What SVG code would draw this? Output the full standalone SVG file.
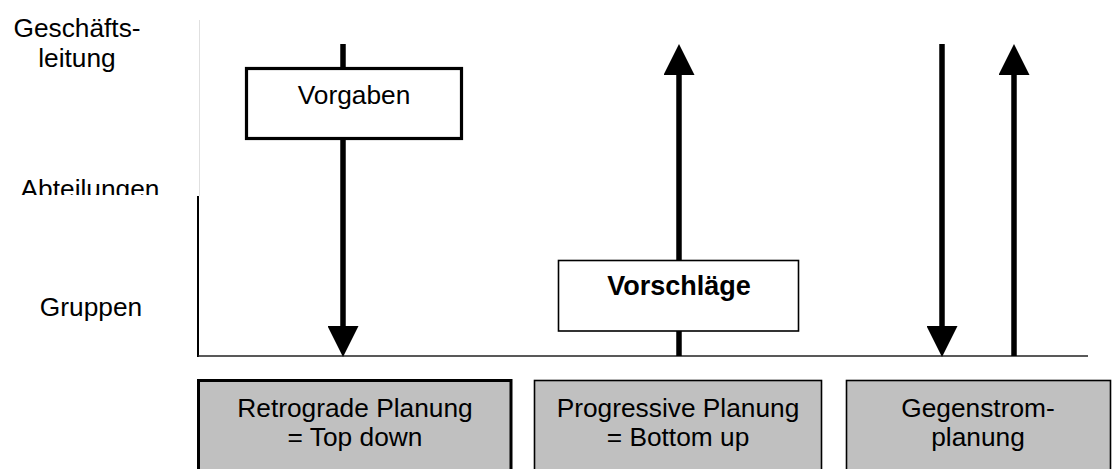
<svg xmlns="http://www.w3.org/2000/svg" width="1115" height="469" viewBox="0 0 1115 469">
  <style>
    text { font-family: "Liberation Sans", Arial, sans-serif; font-size: 26.3px; fill: #000; }
    .mid { text-anchor: middle; }
    .bold { font-weight: bold; font-size: 27px; }
    .shaft { stroke: #000; stroke-width: 5.5; fill: none; }
    .plain { fill: #fff; stroke: #000; }
    .method { fill: #c0c0c0; stroke: #000; }
  </style>
  <defs>
    <marker id="head" viewBox="0 0 31 31" refX="0" refY="15.5" markerWidth="31" markerHeight="31" markerUnits="userSpaceOnUse" orient="auto">
      <path d="M0,0 L31,15.5 L0,31 Z" fill="#000"/>
    </marker>
    <clipPath id="cut-level">
      <rect x="0" y="150" width="200" height="45"/>
    </clipPath>
  </defs>

  <rect width="1115" height="469" fill="#fff"/>

  <!-- hierarchy levels -->
  <g id="levels">
    <text class="mid" x="77" y="37">Geschäfts-</text>
    <text class="mid" x="77" y="67">leitung</text>
    <text class="mid" x="90" y="198" clip-path="url(#cut-level)">Abteilungen</text>
    <text class="mid" x="91" y="316">Gruppen</text>
  </g>

  <!-- axes -->
  <g id="axes">
    <line x1="199.5" y1="20" x2="199.5" y2="196" stroke="#e0e0e0" stroke-width="1"/>
    <line x1="198" y1="196" x2="198" y2="357" stroke="#000" stroke-width="2"/>
    <line x1="198" y1="356" x2="1088" y2="356" stroke="#222" stroke-width="1.6"/>
  </g>

  <!-- planning flows -->
  <g id="connectors">
    <line class="shaft" x1="343" y1="44" x2="343" y2="326" marker-end="url(#head)"/>
    <line class="shaft" x1="679" y1="356" x2="679" y2="75" marker-end="url(#head)"/>
    <line class="shaft" x1="942" y1="44" x2="942" y2="326" marker-end="url(#head)"/>
    <line class="shaft" x1="1014" y1="356" x2="1014" y2="75" marker-end="url(#head)"/>
  </g>

  <g id="vorgaben">
    <rect class="plain" x="246.5" y="68.5" width="215" height="70" stroke-width="3.2"/>
    <text class="mid" x="354" y="104">Vorgaben</text>
  </g>

  <g id="vorschlaege">
    <rect class="plain" x="558.5" y="260.5" width="240" height="70.5" stroke-width="1.6"/>
    <text class="mid bold" x="679" y="295">Vorschläge</text>
  </g>

  <g id="retrograde">
    <rect class="method" x="198.5" y="380.5" width="312.5" height="100" stroke-width="3"/>
    <text class="mid" x="355" y="417">Retrograde Planung</text>
    <text class="mid" x="355" y="446">= Top down</text>
  </g>

  <g id="progressive">
    <rect class="method" x="534.5" y="380.5" width="287" height="100" stroke-width="1.6"/>
    <text class="mid" x="678" y="417">Progressive Planung</text>
    <text class="mid" x="678" y="446">= Bottom up</text>
  </g>

  <g id="gegenstrom">
    <rect class="method" x="846.5" y="380.5" width="264" height="100" stroke-width="1.6"/>
    <text class="mid" x="978" y="417">Gegenstrom-</text>
    <text class="mid" x="978" y="446">planung</text>
  </g>
</svg>
